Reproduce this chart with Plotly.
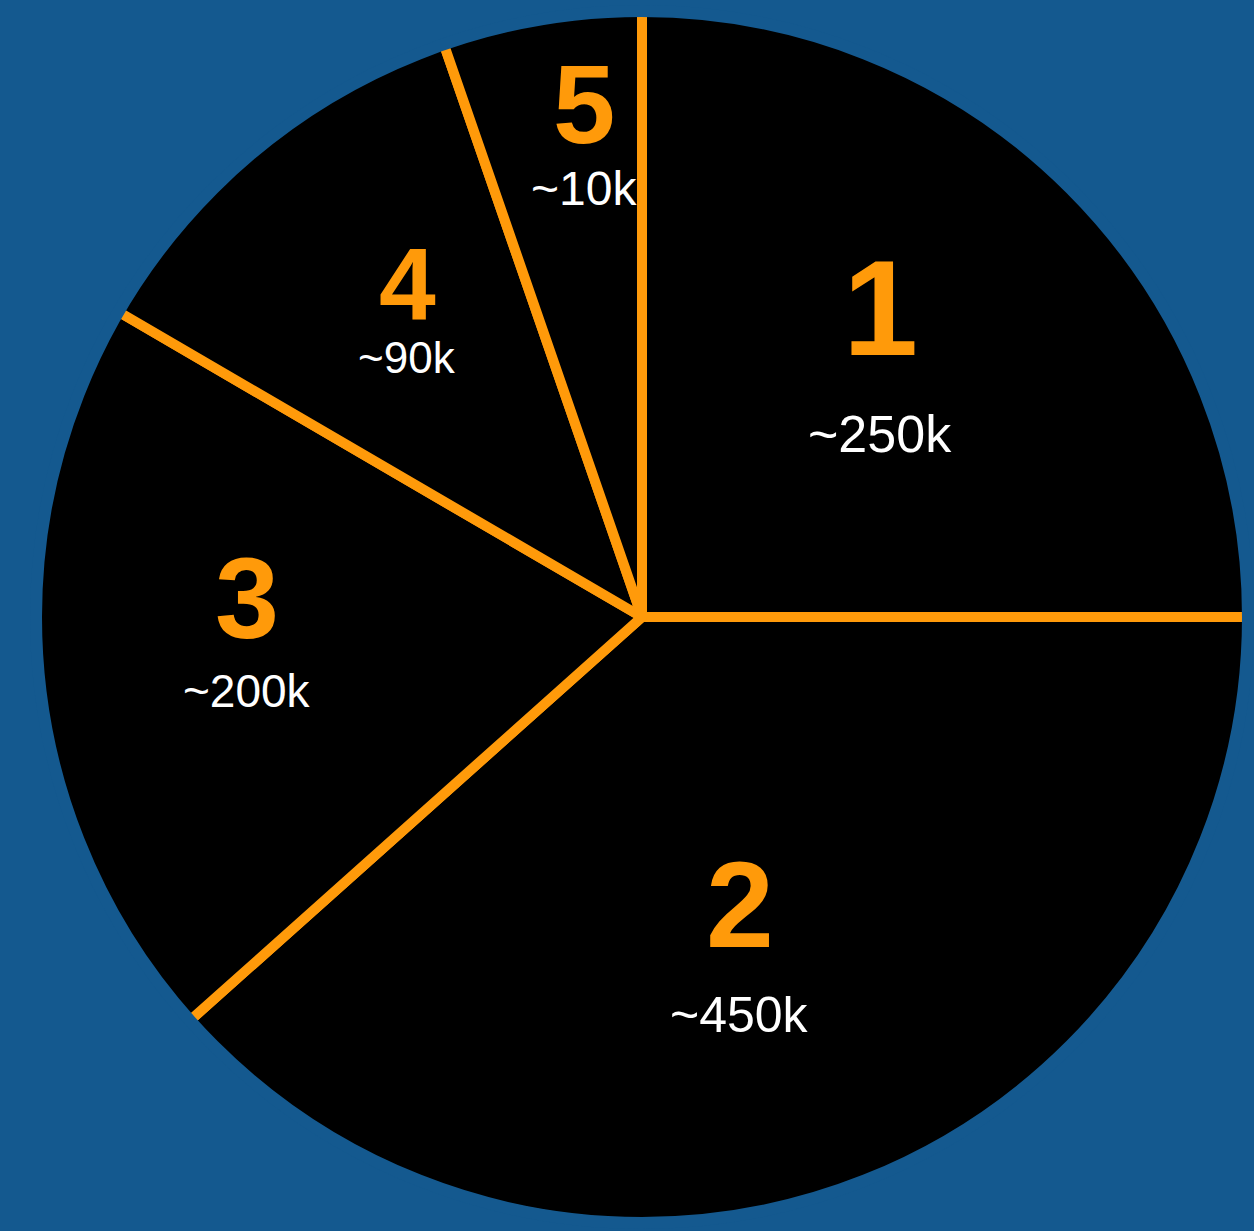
import numpy as np
import plotly.graph_objects as go

# ---- data ----
slice_ids = ["1", "2", "3", "4", "5"]
value_labels = ["~250k", "~450k", "~200k", "~90k", "~10k"]
# share of the circle each slice occupies as drawn (percent)
drawn_share = [25.0, 38.4, 20.0, 11.3, 5.3]

# ---- style / layout parameters ----
W, H = 1254, 1231
BG = "#14598f"
ORANGE = "#ff9a0a"
CX, CY = 642, 617          # pie centre in pixels (from top-left)
R_PIE = 606                # pie radius in pixels
RING = 12                  # width of background ring hiding outer outline
label_r = [0.57, 0.595, 0.66, 0.63, 0.79]     # radial position of label group
label_f = [0.49, 0.536, 0.525, 0.526, 0.63]   # angular position within slice
num_size = [135, 122, 115, 102, 112]
val_size = [52, 50, 46, 44, 48]
gap = [125, 110, 93, 73, 84]

fig = go.Figure()
fig.add_trace(go.Pie(
    labels=slice_ids,
    values=drawn_share,
    sort=False,
    direction="clockwise",
    rotation=0,
    marker=dict(colors=["#000000"] * len(slice_ids),
                line=dict(color=ORANGE, width=10)),
    textinfo="none",
    hoverinfo="skip",
    showlegend=False,
    domain=dict(x=[(CX - R_PIE) / W, (CX + R_PIE) / W],
                y=[(H - CY - R_PIE) / H, (H - CY + R_PIE) / H]),
))

# hide the orange outline on the outer arc
fig.add_shape(type="circle", xref="paper", yref="paper",
              x0=(CX - R_PIE) / W, x1=(CX + R_PIE) / W,
              y0=(H - CY - R_PIE) / H, y1=(H - CY + R_PIE) / H,
              line=dict(color=BG, width=RING), fillcolor="rgba(0,0,0,0)",
              layer="above")

# labels placed inside each slice, derived from the slice angles
shares = np.array(drawn_share, dtype=float)
cum = np.cumsum(shares) / shares.sum() * 360.0
start = np.concatenate([[0.0], cum[:-1]])
R_VIS = R_PIE - RING / 2
for i in range(len(slice_ids)):
    ang = np.deg2rad(start[i] + label_f[i] * (cum[i] - start[i]))
    px = CX + label_r[i] * R_VIS * np.sin(ang)
    py = CY - label_r[i] * R_VIS * np.cos(ang)
    xp, yp = px / W, 1 - py / H
    fig.add_annotation(x=xp, y=yp, xref="paper", yref="paper",
                       text="<b>%s</b>" % slice_ids[i], showarrow=False,
                       xanchor="center", yanchor="middle", yshift=gap[i] / 2,
                       font=dict(family="Liberation Sans, Arial", size=num_size[i], color=ORANGE))
    fig.add_annotation(x=xp, y=yp, xref="paper", yref="paper",
                       text=value_labels[i], showarrow=False,
                       xanchor="center", yanchor="middle", yshift=-gap[i] / 2,
                       font=dict(family="Liberation Sans, Arial", size=val_size[i], color="#ffffff"))

fig.update_layout(width=W, height=H, margin=dict(l=0, r=0, t=0, b=0, pad=0),
                  paper_bgcolor=BG, plot_bgcolor=BG)
fig.write_html("out.html", config={"displayModeBar": False},
               post_script="document.body.style.margin='0';document.body.style.overflow='hidden';document.body.style.background='%s';" % BG)
